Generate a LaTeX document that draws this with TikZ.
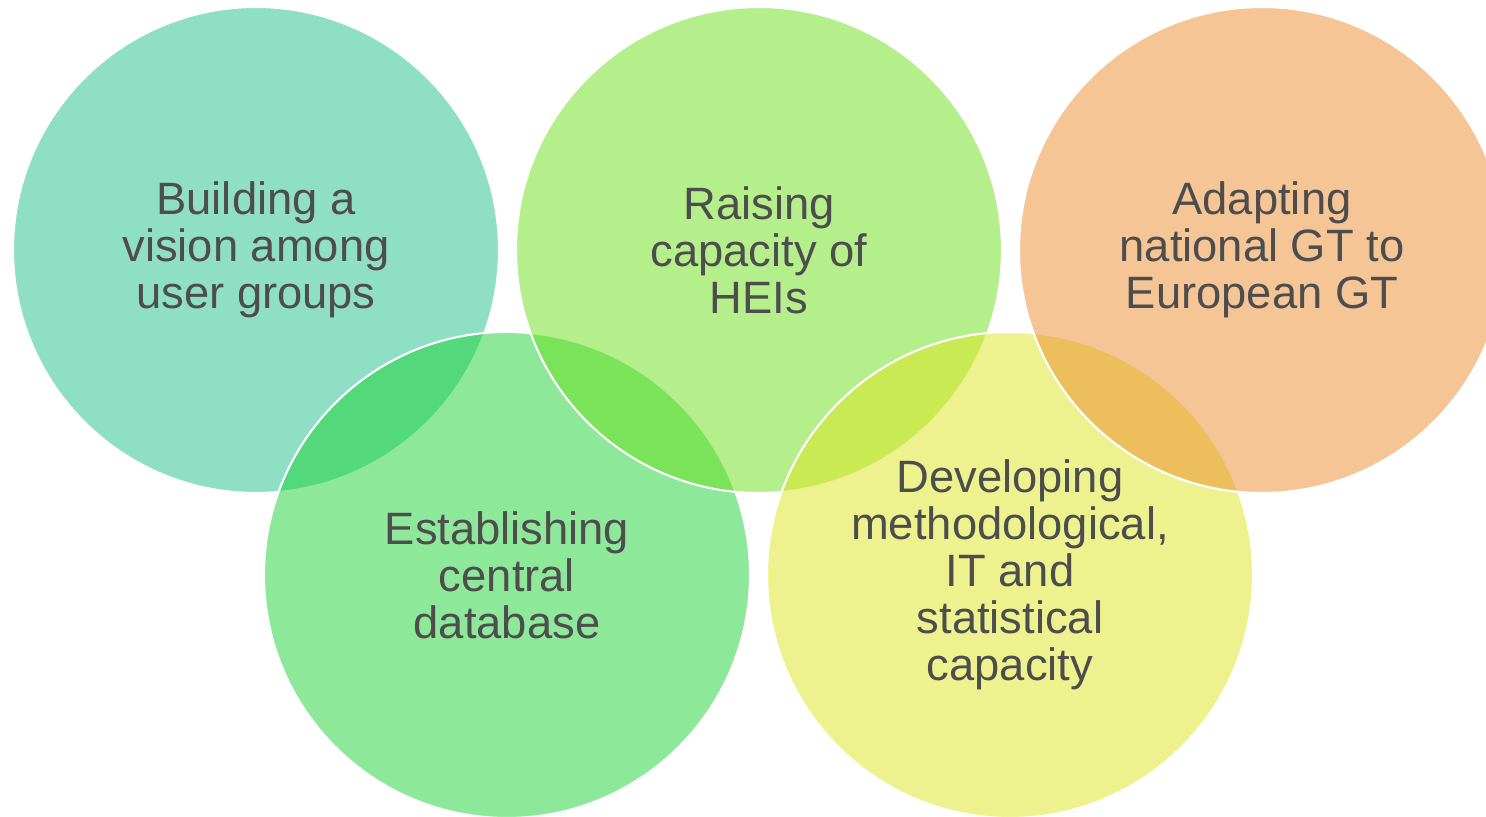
\documentclass[tikz,border=0pt]{standalone}
\usepackage{fontspec}
\setmainfont{Liberation Sans}
\usepackage{tikz}
\usetikzlibrary{positioning}

\definecolor{teal1}{HTML}{1DBF89}
\definecolor{lime1}{HTML}{6BDF19}
\definecolor{orange1}{HTML}{EB8B2D}
\definecolor{green1}{HTML}{1BD135}
\definecolor{yellow1}{HTML}{DDE51D}
\definecolor{txt}{HTML}{4D4D4D}

\tikzset{
	ring/.style={circle, minimum size=4.86cm, inner sep=0pt, draw=white, line width=0.6pt,
		fill opacity=0.5, text opacity=1, text=txt, align=center,
		font=\fontsize{12.9}{13.4}\selectfont}
}

\begin{document}
\begin{tikzpicture}
			\useasboundingbox (0,0) rectangle (14.86,8.17);

			\node[ring, fill=teal1] (1) at (2.56,5.67) {Building a\\vision among\\user groups};
			\node[ring, fill=green1] (2) at (5.07,2.42) {Establishing\\central\\database};
			\node[ring, fill=lime1] (3) at (7.59,5.67) {Raising\\capacity of\\HEIs};
			\node[ring, fill=yellow1] (4) at (10.10,2.42) {Developing\\methodological,\\IT and\\statistical\\capacity};
			\node[ring, fill=orange1] (5) at (12.62,5.67) {Adapting\\national GT to\\European GT};
        \end{tikzpicture}
\end{document}
